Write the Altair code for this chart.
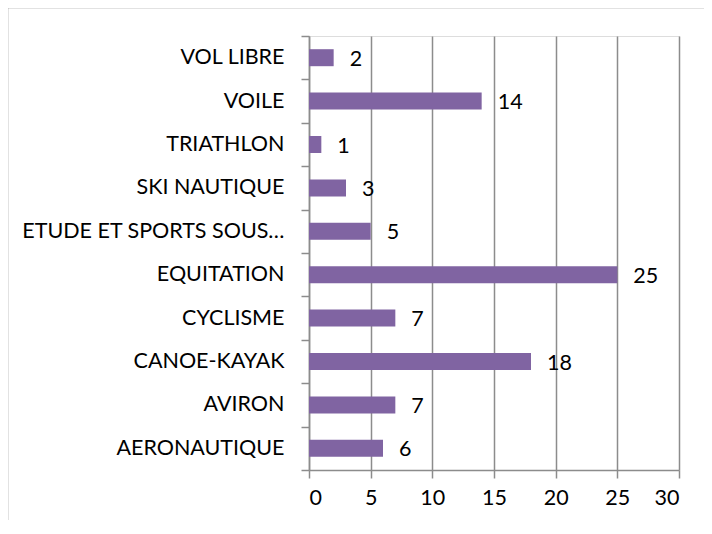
import altair as alt
import pandas as pd

categories = ["VOL LIBRE", "VOILE", "TRIATHLON", "SKI NAUTIQUE", "ETUDE ET SPORTS SOUS…",
              "EQUITATION", "CYCLISME", "CANOE-KAYAK", "AVIRON", "AERONAUTIQUE"]
values = [2, 14, 1, 3, 5, 25, 7, 18, 7, 6]
x_ticks = [0, 5, 10, 15, 20, 25, 30]

df = pd.DataFrame({"cat": categories, "val": values})

FONT = "Lato"
GRID = "#8c8c8c"
FS = 21.5

y_enc = alt.Y("cat:N", sort=categories, title=None,
              scale=alt.Scale(paddingInner=0, paddingOuter=0),
              axis=alt.Axis(tickBand="extent", ticks=True, tickSize=8, tickColor=GRID,
                            tickWidth=1.5, domainColor=GRID, domainWidth=1.5,
                            labelFont=FONT, labelFontSize=FS, labelColor="black",
                            labelPadding=17, labelLimit=400, grid=False))
x_enc = alt.X("val:Q", title=None,
              scale=alt.Scale(domain=[0, 30], nice=False),
              axis=alt.Axis(values=x_ticks, tickSize=8, tickColor=GRID, tickWidth=1.5,
                            domainColor=GRID, domainWidth=1.5, grid=True,
                            gridColor=GRID, gridWidth=1.5, labelFont=FONT,
                            labelFontSize=FS, labelColor="black", labelPadding=9))

border = alt.Chart(pd.DataFrame({"a": [0]})).mark_rect(
    fill=None, stroke=GRID, strokeWidth=1.5, clip=False
).encode(x=alt.value(-301.5), x2=alt.value(420), y=alt.value(-28.5), y2=alt.value(600))

bars = alt.Chart(df).mark_bar(color="#8064A2", size=17).encode(x=x_enc, y=y_enc)
labels = alt.Chart(df).mark_text(align="left", dx=16, dy=2, font=FONT, fontSize=FS,
                                 color="black").encode(
    x="val:Q", y=alt.Y("cat:N", sort=categories), text="val:Q")

chart = alt.layer(border, bars, labels).properties(
    width=370, height=434,
    padding={"left": 301, "top": 28, "right": 25, "bottom": 50},
    autosize=alt.AutoSizeParams(type="none"),
).configure_view(stroke=None).configure(background="white")

chart.save("out.html", embed_options={"renderer": "svg", "actions": False})
